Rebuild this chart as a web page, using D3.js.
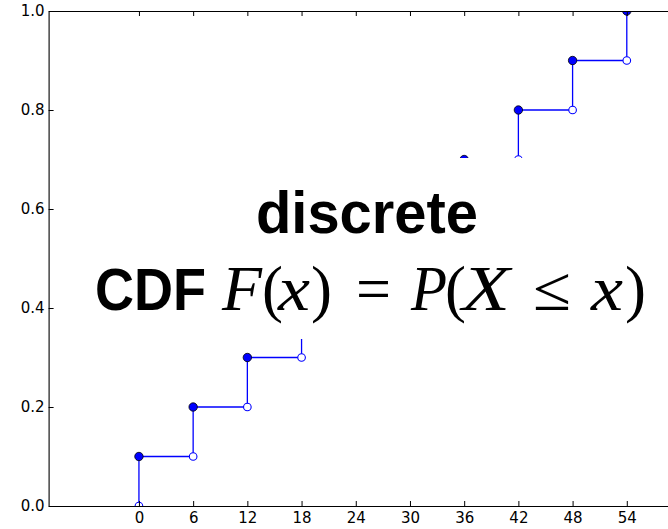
<!DOCTYPE html>
<html>
<head>
<meta charset="utf-8">
<script src="https://cdn.jsdelivr.net/npm/d3@7"></script>
<style>
  body { margin: 0; background: #fff; }
  svg { display: block; }
</style>
</head>
<body>
<svg></svg>
<script>
// jump points of the discrete CDF and the value reached at each one
const jumpX = [0, 6, 12, 18, 24, 30, 36, 42, 48, 54];
const cdfValues = [0.1, 0.2, 0.3, 0.4, 0.5, 0.6, 0.7, 0.8, 0.9, 1.0];
const xTicks = [0, 6, 12, 18, 24, 30, 36, 42, 48, 54];
const yTicks = [0, 0.2, 0.4, 0.6, 0.8, 1.0];
const xDomain = [-10, 60];
const yDomain = [0, 1];

let width = 668;
let height = 529;
let plotLeft = 48.6;
let plotRight = 681;
let plotTop = 11;
let plotBottom = 506;

let svg = d3.select('svg')
    .attr('width', width)
    .attr('height', height);

let xScale = d3.scaleLinear().domain(xDomain).range([plotLeft, plotRight]);
let yScale = d3.scaleLinear().domain(yDomain).range([plotBottom, plotTop]);

svg.append('clipPath')
    .attr('id', 'plot-clip')
    .append('rect')
    .attr('x', plotLeft)
    .attr('y', plotTop)
    .attr('width', plotRight - plotLeft)
    .attr('height', plotBottom - plotTop);

// value just before each jump
const before = cdfValues.map((v, i) => i === 0 ? 0 : cdfValues[i - 1]);

const drawSteps = () => {
    let g = svg.append('g').attr('clip-path', 'url(#plot-clip)');

    // vertical jumps
    g.selectAll('line.jump')
        .data(jumpX)
        .enter()
        .append('line')
        .attr('class', 'jump')
        .attr('x1', d => xScale(d))
        .attr('x2', d => xScale(d))
        .attr('y1', (d, i) => yScale(before[i]))
        .attr('y2', (d, i) => yScale(cdfValues[i]))
        .attr('stroke', '#0000ff')
        .attr('stroke-width', 1.3);

    // flat parts up to the next jump
    g.selectAll('line.flat')
        .data(jumpX.slice(0, -1))
        .enter()
        .append('line')
        .attr('class', 'flat')
        .attr('x1', d => xScale(d))
        .attr('x2', (d, i) => xScale(jumpX[i + 1]))
        .attr('y1', (d, i) => yScale(cdfValues[i]))
        .attr('y2', (d, i) => yScale(cdfValues[i]))
        .attr('stroke', '#0000ff')
        .attr('stroke-width', 1.3);

    // open circles: value not taken
    g.selectAll('circle.open')
        .data(jumpX)
        .enter()
        .append('circle')
        .attr('class', 'open')
        .attr('cx', d => xScale(d))
        .attr('cy', (d, i) => yScale(before[i]))
        .attr('r', 3.8)
        .attr('fill', '#fff')
        .attr('stroke', '#0000ff')
        .attr('stroke-width', 1.1);

    // filled circles: value taken
    g.selectAll('circle.closed')
        .data(jumpX)
        .enter()
        .append('circle')
        .attr('class', 'closed')
        .attr('cx', d => xScale(d))
        .attr('cy', (d, i) => yScale(cdfValues[i]))
        .attr('r', 4.2)
        .attr('fill', '#0000ff')
        .attr('stroke', '#000')
        .attr('stroke-width', 0.8);
}

const drawAxes = () => {
    let bottom = svg.append('g')
        .attr('transform', 'translate(0,' + plotBottom + ')')
        .call(d3.axisBottom(xScale).tickValues(xTicks).tickFormat(d3.format('d'))
            .tickSizeInner(-5).tickSizeOuter(0).tickPadding(6));

    let top = svg.append('g')
        .attr('transform', 'translate(0,' + plotTop + ')')
        .call(d3.axisTop(xScale).tickValues(xTicks).tickFormat('')
            .tickSizeInner(-5).tickSizeOuter(0));

    let left = svg.append('g')
        .attr('transform', 'translate(' + plotLeft + ',0)')
        .call(d3.axisLeft(yScale).tickValues(yTicks).tickFormat(d3.format('.1f'))
            .tickSizeInner(-5).tickSizeOuter(0).tickPadding(4));

    let right = svg.append('g')
        .attr('transform', 'translate(' + plotRight + ',0)')
        .call(d3.axisRight(yScale).tickValues(yTicks).tickFormat('')
            .tickSizeInner(-5).tickSizeOuter(0));

    [bottom, top, left, right].forEach(a => {
        a.selectAll('path.domain').attr('stroke', '#000').attr('stroke-width', 1.1);
        a.selectAll('.tick line').attr('stroke', '#000').attr('stroke-width', 1);
        a.selectAll('text')
            .attr('font-family', 'DejaVu Sans')
            .attr('font-size', 15)
            .attr('fill', '#000');
    });
}

const drawTitle = () => {
    // white box behind the annotation
    svg.append('rect')
        .attr('x', 85)
        .attr('y', 158)
        .attr('width', 583)
        .attr('height', 181)
        .attr('fill', '#fff');

    svg.append('text')
        .attr('x', 256)
        .attr('y', 233)
        .attr('font-family', 'Liberation Sans')
        .attr('font-weight', 'bold')
        .attr('font-size', 60)
        .attr('textLength', 222)
        .attr('lengthAdjust', 'spacingAndGlyphs')
        .text('discrete');

    svg.append('text')
        .attr('x', 95)
        .attr('y', 310)
        .attr('font-family', 'Liberation Sans')
        .attr('font-weight', 'bold')
        .attr('font-size', 60)
        .attr('textLength', 111)
        .attr('lengthAdjust', 'spacingAndGlyphs')
        .text('CDF');

    // formula pieces; letters widened a little towards the math font, parens left as they are
    const mathParts = [
        { t: 'F', x: 222, w: 40, it: true },
        { t: '(', x: 262, w: 0, it: false },
        { t: 'x', x: 278, w: 32, it: true },
        { t: ')', x: 311, w: 0, it: false },
        { t: '=', x: 356, w: 35, it: false },
        { t: 'P', x: 411, w: 36, it: true },
        { t: '(', x: 445, w: 0, it: false },
        { t: 'X', x: 462, w: 48, it: true },
        { t: '\u2264', x: 533, w: 38, it: false },
        { t: 'x', x: 591, w: 32, it: true },
        { t: ')', x: 625, w: 0, it: false }
    ];

    svg.selectAll('text.math')
        .data(mathParts)
        .enter()
        .append('text')
        .attr('class', 'math')
        .attr('x', d => d.x)
        .attr('y', 310)
        .attr('font-family', 'Liberation Serif')
        .attr('font-size', 63)
        .attr('font-style', d => d.it ? 'italic' : 'normal')
        .attr('fill', '#000')
        .each(function (d) {
            if (d.w > 0) {
                d3.select(this)
                    .attr('textLength', d.w)
                    .attr('lengthAdjust', 'spacingAndGlyphs');
            }
        })
        .text(d => d.t);
}

drawSteps();
drawAxes();
drawTitle();
</script>
</body>
</html>
